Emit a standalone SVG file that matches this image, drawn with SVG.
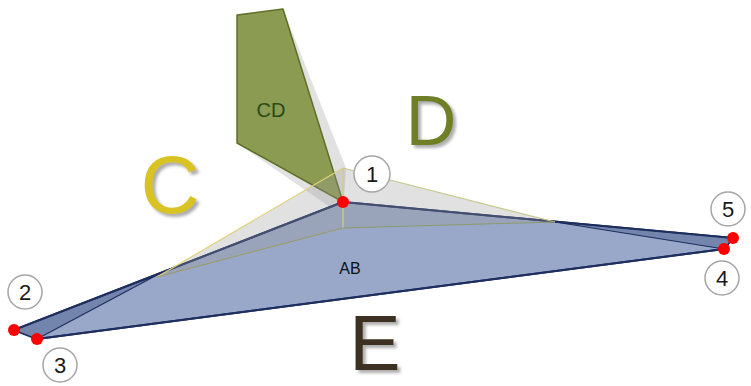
<svg xmlns="http://www.w3.org/2000/svg" width="751" height="386" viewBox="0 0 751 386">
  <defs>
    <filter id="letterShadow" x="-20%" y="-20%" width="150%" height="150%">
      <feDropShadow dx="3" dy="3" stdDeviation="1.5" flood-color="#8a8a8a" flood-opacity="0.7"/>
    </filter>
  </defs>
  <style>
    .big { font-family: "Liberation Sans", Arial, sans-serif; text-anchor: middle; filter: url(#letterShadow); }
    .lbl { font-family: "Liberation Sans", Arial, sans-serif; text-anchor: middle; }
    .num circle { fill: #ffffff; stroke: #a6a6a6; stroke-width: 1.5; }
    .num text { font-family: "Liberation Sans", Arial, sans-serif; font-size: 22px; text-anchor: middle; fill: #1a1a1a; }
    .vertex { fill: #ff0000; }
    .shade { fill: #9a9a9a; fill-opacity: 0.3; stroke: none; }
  </style>

  <!-- face CD with its projected shade -->
  <g id="face-CD">
    <polygon class="shade" points="237,143 283,9 346,168 343,216"/>
    <polygon points="237,15 283,9 343,202 237,143" fill="#8b9b52" stroke="#5f7026" stroke-width="1.5" stroke-linejoin="round"/>
    <text class="lbl" x="271" y="117" font-size="20" fill="#2a4a18">CD</text>
  </g>

  <!-- face AB -->
  <g id="face-AB">
    <polygon points="14,330 343,202 733,238 724,249 37,339" fill="#99a8c8" stroke="#1e2e5e" stroke-width="2" stroke-linejoin="round"/>
    <polygon points="14,330 157,275 37,339" fill="#7385ad" stroke="#1e2e5e" stroke-width="1.2" stroke-linejoin="round"/>
    <polygon points="555,222 733,238 724,249" fill="#7385ad" stroke="#1e2e5e" stroke-width="1.2" stroke-linejoin="round"/>
    <line x1="14" y1="330" x2="343" y2="202" stroke="#1e2e5e" stroke-width="2"/>
    <line x1="343" y1="202" x2="733" y2="238" stroke="#1e2e5e" stroke-width="2"/>
    <line x1="37" y1="339" x2="724" y2="249" stroke="#1e2e5e" stroke-width="2"/>
    <text class="lbl" x="350" y="274" font-size="16" fill="#111111">AB</text>
  </g>

  <!-- translucent faces C and D -->
  <g id="faces-C-D">
    <polygon class="shade" points="157,277 343,168 555,222 343,228"/>
    <line x1="157" y1="277" x2="343" y2="168" stroke="#e2d27a" stroke-width="1.2"/>
    <line x1="343" y1="168" x2="555" y2="222" stroke="#c9c88e" stroke-width="1.2"/>
    <line x1="343" y1="168" x2="343" y2="228" stroke="#d9cc82" stroke-width="1.2"/>
    <line x1="157" y1="277" x2="343" y2="228" stroke="#9c9a62" stroke-width="1"/>
    <line x1="343" y1="228" x2="555" y2="222" stroke="#8c9a6c" stroke-width="1"/>
  </g>

  <!-- vertices -->
  <g id="vertices">
    <circle class="vertex" cx="343" cy="202" r="6"/>
    <circle class="vertex" cx="14" cy="330" r="6"/>
    <circle class="vertex" cx="37" cy="339" r="6"/>
    <circle class="vertex" cx="724" cy="249" r="6"/>
    <circle class="vertex" cx="733" cy="238" r="6"/>
  </g>

  <!-- vertex numbers -->
  <g id="n1" class="num"><circle cx="372" cy="174" r="18"/><text x="372" y="182">1</text></g>
  <g id="n2" class="num"><circle cx="25" cy="292" r="17"/><text x="25" y="300">2</text></g>
  <g id="n3" class="num"><circle cx="60" cy="365" r="17"/><text x="60" y="373">3</text></g>
  <g id="n4" class="num"><circle cx="722" cy="278" r="17"/><text x="722" y="286">4</text></g>
  <g id="n5" class="num"><circle cx="728" cy="209" r="17"/><text x="728" y="217">5</text></g>

  <!-- region letters -->
  <g id="letter-C"><text class="big" x="170" y="213" font-size="82" fill="#d9c321">C</text></g>
  <g id="letter-D"><text class="big" x="431" y="145" font-size="70" fill="#6e7f27">D</text></g>
  <g id="letter-E"><text class="big" x="375" y="370" font-size="77" fill="#3e3122">E</text></g>
</svg>
